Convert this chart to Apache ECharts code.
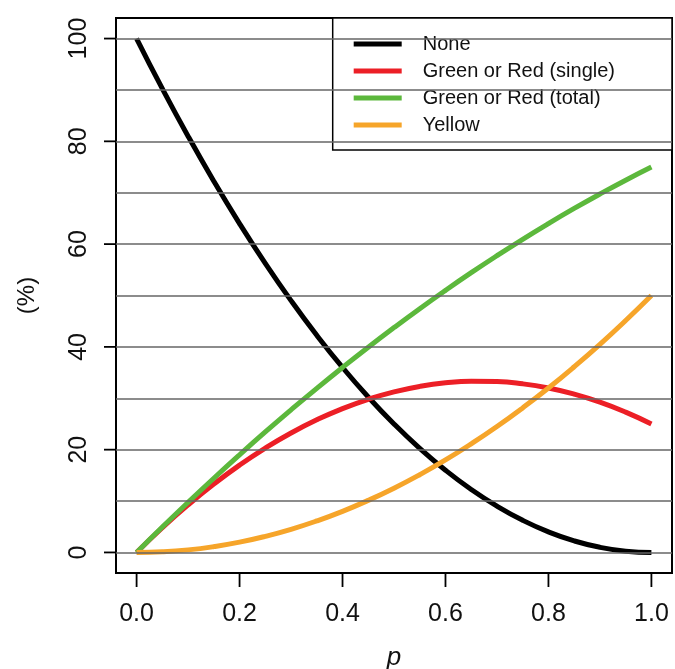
<!DOCTYPE html>
<html>
<head>
<meta charset="utf-8">
<script src="https://cdn.jsdelivr.net/npm/echarts@6/dist/echarts.min.js"></script>
<style>
html,body{margin:0;padding:0;background:#fff;}
#chart{width:675px;height:669px;}
</style>
</head>
<body>
<div id="chart"></div>
<script>
// Data
const pValues = [0,0.05,0.1,0.15,0.2,0.25,0.3,0.35,0.4,0.45,0.5,0.55,0.6,0.65,0.7,0.75,0.8,0.85,0.9,0.95,1.0];
const noneValues = [100,90.25,81,72.25,64,56.25,49,42.25,36,30.25,25,20.25,16,12.25,9,6.25,4,2.25,1,0.25,0];
const singleValues = [0,4.81,9.25,13.31,17,20.31,23.25,25.81,28,29.81,31.25,32.31,33,33.31,33.25,32.81,32,30.81,29.25,27.31,25];
const totalValues = [0,4.94,9.75,14.44,19,23.44,27.75,31.94,36,39.94,43.75,47.44,51,54.44,57.75,60.94,64,66.94,69.75,72.44,75];
const yellowValues = [0,0.13,0.5,1.13,2,3.13,4.5,6.13,8,10.13,12.5,15.13,18,21.13,24.5,28.13,32,36.13,40.5,45.13,50];
const seriesNames = ['None','Green or Red (single)','Green or Red (total)','Yellow'];
const xTicks = [0,0.2,0.4,0.6,0.8,1.0];
const yTicks = [0,20,40,60,80,100];
const gridValues = [0,10,20,30,40,50,60,70,80,90,100];

const colors = ['#000000','#ec1f26','#5cb83c','#f6a52a'];
const allValues = [noneValues, singleValues, totalValues, yellowValues];

const chart = echarts.init(document.getElementById('chart'), null, {renderer:'canvas'});
const font = 'Liberation Sans, Arial, Helvetica, sans-serif';

const lineSeries = seriesNames.map((name, i) => ({
  name: name,
  type: 'line',
  data: pValues.map((p, j) => [p, allValues[i][j]]),
  smooth: true,
  showSymbol: false,
  symbol: 'none',
  z: 3,
  lineStyle: {color: colors[i], width: 5},
  itemStyle: {color: colors[i]}
}));

const gridSeries = {
  name: 'grid',
  type: 'line',
  data: [],
  z: 1,
  silent: true,
  markLine: {
    silent: true,
    symbol: ['none','none'],
    label: {show: false},
    animation: false,
    lineStyle: {color: '#666666', width: 1.7, type: 'solid'},
    data: gridValues.map(v => ({yAxis: v}))
  }
};

// Outside tick marks (R style), positioned through the axis scales
const xTickSeries = {
  name: 'xticks',
  type: 'custom',
  silent: true,
  clip: false,
  z: 5,
  data: xTicks.map(v => [v, 0]),
  renderItem: (params, api) => {
    const pt = api.coord([api.value(0), 0]);
    const cs = params.coordSys;
    const yb = cs.y + cs.height;
    return {type: 'line', shape: {x1: pt[0], y1: yb, x2: pt[0], y2: yb + 14}, style: {stroke: '#000', lineWidth: 1.8}};
  }
};
const yTickSeries = {
  name: 'yticks',
  type: 'custom',
  silent: true,
  clip: false,
  z: 5,
  data: yTicks.map(v => [0, v]),
  renderItem: (params, api) => {
    const pt = api.coord([0, api.value(1)]);
    const cs = params.coordSys;
    return {type: 'line', shape: {x1: cs.x - 12, y1: pt[1], x2: cs.x, y2: pt[1]}, style: {stroke: '#000', lineWidth: 1.8}};
  }
};

chart.setOption({
  animation: false,
  backgroundColor: '#fff',
  grid: {left: 116, right: 3, top: 18, bottom: 96, show: true, borderColor: '#000', borderWidth: 2, backgroundColor: 'transparent', outerBoundsMode: 'none', containLabel: false},
  legend: {
    data: seriesNames,
    orient: 'vertical',
    right: 3,
    top: 18,
    icon: 'rect',
    itemWidth: 48,
    itemHeight: 5,
    itemGap: 7,
    padding: [16, 57, 15, 21],
    backgroundColor: '#fff',
    borderColor: '#000',
    borderWidth: 1.5,
    borderRadius: 0,
    textStyle: {fontFamily: font, fontSize: 20, color: '#111', lineHeight: 20, padding: [0,0,0,16]}
  },
  xAxis: {
    type: 'value',
    min: -0.04,
    max: 1.04,
    name: 'p',
    nameLocation: 'middle',
    nameGap: 72,
    nameTextStyle: {fontFamily: font, fontSize: 26, fontStyle: 'italic', color: '#111'},
    splitLine: {show: false},
    axisLine: {show: true, onZero: false, lineStyle: {color: '#000', width: 2}},
    axisTick: {show: false},
    axisLabel: {customValues: xTicks, margin: 29, fontFamily: font, fontSize: 25, color: '#111', formatter: v => v.toFixed(1)}
  },
  yAxis: {
    type: 'value',
    min: -4,
    max: 104,
    name: '(%)',
    nameLocation: 'middle',
    nameGap: 77,
    nameRotate: 90,
    nameTextStyle: {fontFamily: font, fontSize: 24, color: '#111'},
    splitLine: {show: false},
    axisLine: {show: true, onZero: false, lineStyle: {color: '#000', width: 2}},
    axisTick: {show: false},
    axisLabel: {customValues: yTicks, rotate: 90, margin: 24, fontFamily: font, fontSize: 25, color: '#111'}
  },
  series: [gridSeries].concat(lineSeries, [xTickSeries, yTickSeries])
});
</script>
</body>
</html>
